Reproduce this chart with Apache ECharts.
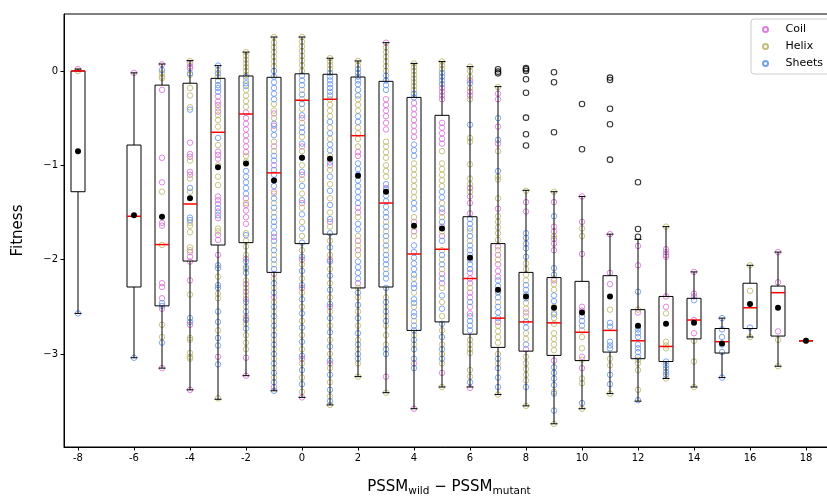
<!DOCTYPE html>
<html><head><meta charset="utf-8">
<script src="https://cdn.jsdelivr.net/npm/echarts@6/dist/echarts.min.js"></script>
<style>html,body{margin:0;padding:0;background:#fff}#c{width:827px;height:496px}</style>
</head><body><div id="c"></div>
<script>
const xTicks = [-8,-6,-4,-2,0,2,4,6,8,10,12,14,16,18];
const yTicks = [0,-1,-2,-3];
const boxX = [-8,-6,-5,-4,-3,-2,-1,0,1,2,3,4,5,6,7,8,9,10,11,12,13,14,15,16,17,18];
const whiskerLow = [-2.57,-3.04,-3.15,-3.38,-3.48,-3.23,-3.39,-3.46,-3.54,-3.24,-3.41,-3.58,-3.35,-3.35,-3.43,-3.55,-3.74,-3.58,-3.42,-3.50,-3.26,-3.35,-3.25,-2.82,-3.13,-2.86];
const q1 = [-1.28,-2.29,-2.49,-2.015,-1.845,-1.82,-2.135,-1.83,-1.73,-2.30,-2.29,-2.75,-2.66,-2.79,-2.93,-2.97,-3.015,-3.07,-2.98,-3.05,-3.08,-2.84,-2.99,-2.73,-2.81,-2.86];
const median = [0.0,-1.54,-1.84,-1.41,-0.65,-0.456,-1.08,-0.31,-0.30,-0.686,-1.40,-1.94,-1.89,-2.2,-2.62,-2.66,-2.67,-2.77,-2.75,-2.86,-2.92,-2.64,-2.87,-2.51,-2.35,-2.86];
const q3 = [0.0,-0.785,-0.15,-0.13,-0.078,-0.053,-0.067,-0.03,-0.035,-0.064,-0.11,-0.28,-0.47,-1.545,-1.83,-2.135,-2.19,-2.23,-2.17,-2.53,-2.39,-2.41,-2.73,-2.25,-2.28,-2.86];
const whiskerHigh = [0.02,-0.02,0.074,0.11,0.057,0.2,0.36,0.36,0.135,0.106,0.30,0.08,0.10,0.046,-0.166,-1.265,-1.28,-1.33,-1.73,-1.785,-1.65,-2.13,-2.62,-2.06,-1.92,-2.86];
const means = [-0.85,-1.53,-1.545,-1.35,-1.02,-0.98,-1.16,-0.92,-0.93,-1.11,-1.28,-1.64,-1.67,-1.98,-2.32,-2.39,-2.51,-2.56,-2.39,-2.70,-2.68,-2.67,-2.89,-2.47,-2.51,-2.86];
const outliers = [[7,0.018],[7,-0.007],[7,-0.025],[8,0.03],[8,0.018],[8,0.0],[8,-0.088],[8,-0.23],[8,-0.495],[8,-0.67],[8,-0.79],[9,-0.014],[9,-0.12],[9,-0.65],[10,-0.35],[10,-0.83],[11,-0.07],[11,-0.095],[11,-0.40],[11,-0.565],[11,-0.94],[12,-1.18],[12,-1.675],[12,-1.757]];

const coilByX = [
 [-8,[0.02]],
 [-6,[-0.02]],
 [-5,[0.07,-0.20,-0.92,-1.18,-1.61,-1.64,-2.25,-2.29,-2.41,-2.52,-3.15]],
 [-4,[0.08,0.046,0.028,-0.76,-0.88,-0.91,-1.07,-1.10,-1.92,-1.97,-2.02,-2.22,-2.69,-3.38]],
 [-3,[-0.27,-0.325,-0.36,-0.43,-0.855,-0.89,-0.93,-1.33,-1.37,-1.41,-1.49,-1.56,-1.74,-1.79,-1.95,-3.03]],
 [-2,[-0.44,-0.5,-0.56,-0.62,-0.68,-0.74,-0.8,-0.86,-1.35,-1.42,-1.48,-1.55,-1.62,-1.99,-2.26,-2.34,-2.42,-2.62,-3.04,-3.23]],
 [-1,[-0.45,-0.58,-0.8,-1.0,-1.28,-1.76,-2.15,-2.4,-3.35]],
 [0,[-0.5,-0.8,-1.1,-1.4,-2.0,-2.3,-3.05,-3.46]],
 [1,[-1.0,-1.6,-2.0,-2.5,-3.1]],
 [2,[-0.86,-0.9,-1.45,-1.5,-1.8,-1.9,-2.25]],
 [3,[0.3,-0.3,-0.36,-0.42,-0.48,-0.55,-0.62,-1.24,-3.24]],
 [4,[-0.34,-0.4,-0.46,-0.52,-0.58,-0.64,-0.7,-1.6,-1.7,-3.1,-3.58]],
 [5,[-0.18,-0.22,-0.26,-0.3,-0.55,-0.6,-0.66,-0.72,-0.77,-1.5,-1.65,-1.75,-2.15,-2.25,-3.2]],
 [6,[-0.1,-0.22,-0.26,-1.24,-1.33,-1.4,-1.51,-2.14,-2.2,-2.25,-2.35,-2.4,-2.5,-2.57,-3.36]],
 [7,[-0.24,-0.30,-0.59,-0.77,-1.46,-1.86,-1.95,-2.05,-2.12,-2.18,-2.66]],
 [8,[-1.39,-1.49,-2.56,-2.95]],
 [9,[-1.39,-1.65,-1.7,-1.78,-1.83,-1.9,-2.22,-3.07]],
 [10,[-1.33,-1.6,-1.94,-2.5,-2.54,-3.03,-3.15]],
 [11,[-1.73,-2.14,-2.26]],
 [12,[-1.855,-2.06,-2.56]],
 [13,[-1.89,-1.92,-1.95,-1.97,-2.39,-2.5]],
 [14,[-2.13,-2.36,-2.39,-2.64,-2.78]],
 [17,[-1.92,-2.24,-2.76]]
];
const helixByX = [
 [-8,[0.0]],
 [-5,[-0.025,-0.06,-0.078,-1.28,-1.845,-2.69,-2.82]],
 [-4,[0.106,-0.04,-0.18,-0.26,-0.385,-0.95,-1.14,-1.28,-1.61,-1.64,-1.71,-1.87,-1.90,-2.37,-2.83,-2.85,-2.99,-3.03,-3.05]],
 [-3,[0.01,-0.06,-0.395,-0.47,-0.52,-0.59,-0.785,-1.0,-1.12,-1.21,-1.67,-1.70,-2.18,-2.36,-2.41,-2.75,-3.47]],
 [-2,[0.2,0.16,0.12,0.08,0.04,0.0,-0.04,-0.1,-0.2,-0.26,-0.32,-0.38,-0.9,-0.96,-1.4,-1.72,-1.8,-1.86,-1.95,-2.1,-2.22,-2.3,-2.38,-2.5,-2.6,-2.68,-2.8,-2.88,-2.95]],
 [-1,[0.36,0.3,0.25,0.2,0.15,0.1,0.05,-0.35,-0.42,-0.5,-0.75,-0.85,-1.3,-1.4,-1.5,-1.85,-1.95,-2.05,-2.2,-2.3,-2.45,-2.55,-2.65,-2.75,-2.85,-2.95,-3.05,-3.15,-3.25]],
 [0,[0.36,0.31,0.26,0.21,0.16,0.11,0.06,0.0,-0.2,-0.3,-0.4,-0.55,-0.7,-0.85,-1.0,-1.15,-1.3,-1.45,-1.6,-1.75,-1.9,-2.05,-2.2,-2.35,-2.5,-2.65,-2.8,-2.95,-3.1,-3.25,-3.4]],
 [1,[0.135,0.1,0.06,0.02,-0.3,-0.36,-0.42,-0.48,-0.6,-0.72,-0.9,-1.05,-1.2,-1.35,-1.5,-1.65,-1.8,-1.95,-2.1,-2.25,-2.4,-2.55,-2.7,-2.85,-3.0,-3.15,-3.3,-3.45,-3.54]],
 [2,[0.106,0.06,-0.3,-0.36,-0.42,-0.6,-0.66,-0.72,-0.8,-1.55,-1.75,-1.85,-1.95,-2.3,-2.4,-2.55,-2.7,-2.85,-2.95,-3.1,-3.24]],
 [3,[0.25,0.2,0.15,0.1,0.05,0.0,-0.75,-0.8,-0.86,-0.92,-1.0,-1.06,-1.12,-1.6,-1.7,-1.8,-1.9,-2.1,-2.4,-2.5,-2.6,-2.7,-2.8,-2.9,-3.41]],
 [4,[0.08,0.04,0.0,-0.04,-0.08,-0.12,-0.16,-0.2,-0.98,-1.04,-1.1,-1.16,-1.22,-1.28,-1.34,-1.55,-1.65,-1.75,-2.2,-2.35,-2.5,-2.65,-2.8,-2.9]],
 [5,[0.1,0.06,0.02,-0.85,-0.98,-1.04,-1.1,-1.16,-1.22,-1.4,-1.55,-1.7,-1.9,-2.0,-2.1,-2.3,-2.45,-2.6,-2.75,-2.9,-3.0,-3.1,-3.35]],
 [6,[0.046,0.0,-0.06,-0.18,-0.3,-0.71,-0.75,-0.99,-1.14,-1.2,-1.28,-1.7,-1.8,-2.3,-2.85,-2.9,-2.95,-2.99,-3.17,-3.24]],
 [7,[-0.17,-0.85,-1.12,-1.15,-1.35,-1.54,-1.6,-1.66,-1.72,-1.79,-1.9,-2.0,-2.35,-2.45,-2.7,-2.76,-2.82,-2.88,-3.0,-3.1,-3.43]],
 [8,[-1.27,-2.04,-2.1,-2.16,-2.22,-2.46,-2.52,-2.6,-2.78,-2.84,-3.03,-3.1,-3.16,-3.22,-3.28,-3.55]],
 [9,[-1.28,-1.75,-2.2,-2.26,-2.32,-2.5,-2.56,-2.62,-2.68,-2.78,-2.84,-2.9,-2.96,-3.4,-3.74]],
 [10,[-1.67,-1.75,-2.75,-2.82,-2.94,-3.06,-3.26,-3.31,-3.58]],
 [11,[-2.53,-3.05,-3.12,-3.42]],
 [12,[-2.53,-3.06,-3.1,-3.17,-3.38]],
 [13,[-1.65,-2.57,-2.87,-2.91,-2.94,-3.26]],
 [14,[-2.86,-3.08,-3.35]],
 [16,[-2.06,-2.33,-2.82]],
 [17,[-2.85,-3.13]],
 [18,[-2.86]]
];
const sheetsByX = [
 [-8,[-2.57]],
 [-6,[-3.04]],
 [-5,[0.01,-2.46,-2.49,-2.88]],
 [-4,[-0.025,-0.41,-1.24,-1.555,-1.58,-2.62,-2.66]],
 [-3,[0.057,-0.025,-0.106,-0.15,-0.18,-0.22,-0.71,-1.455,-1.53,-2.06,-2.09,-2.27,-2.30,-2.55,-2.66,-2.83,-2.91,-3.11]],
 [-2,[-0.06,-0.13,-0.16,-1.06,-1.12,-1.18,-1.24,-1.3,-1.74,-2.02,-2.08,-2.14,-2.45,-2.55,-2.64,-2.73]],
 [-1,[0.0,-0.06,-0.12,-0.18,-0.24,-0.3,-0.56,-0.62,-0.68,-0.9,-0.95,-1.05,-1.1,-1.16,-1.22,-1.35,-1.45,-1.55,-1.6,-1.65,-1.72,-1.8,-1.9,-2.0,-2.1,-2.25,-2.35,-2.5,-2.6,-2.7,-2.8,-2.9,-3.0,-3.1,-3.2,-3.3,-3.39]],
 [0,[-0.05,-0.1,-0.15,-0.25,-0.35,-0.47,-0.6,-0.65,-0.77,-0.92,-1.07,-1.22,-1.37,-1.52,-1.67,-1.82,-1.97,-2.12,-2.27,-2.42,-2.57,-2.72,-2.87,-3.02,-3.17,-3.32]],
 [1,[-0.02,-0.06,-0.1,-0.14,-0.18,-0.22,-0.26,-0.54,-0.66,-0.78,-0.84,-0.97,-1.12,-1.27,-1.42,-1.57,-1.72,-1.87,-2.02,-2.17,-2.32,-2.47,-2.62,-2.77,-2.92,-3.07,-3.22,-3.38,-3.5]],
 [2,[0.02,-0.02,-0.06,-0.1,-0.14,-0.2,-0.26,-0.48,-0.54,-0.98,-1.04,-1.1,-1.16,-1.22,-1.28,-1.34,-1.4,-1.62,-1.68,-2.02,-2.08,-2.14,-2.2,-2.35,-2.48,-2.62,-2.78,-2.9,-3.0,-3.05]],
 [3,[-0.05,-0.1,-0.15,-0.2,-1.2,-1.26,-1.32,-1.38,-1.44,-1.5,-1.55,-1.65,-1.75,-1.85,-1.95,-2.0,-2.05,-2.15,-2.2,-2.3,-2.45,-2.55,-2.65,-2.95,-3.0]],
 [4,[-0.24,-0.28,-0.78,-0.84,-0.9,-1.4,-1.46,-1.85,-1.92,-1.98,-2.04,-2.1,-2.16,-2.26,-2.3,-2.42,-2.46,-2.56,-2.6,-2.7,-2.75,-2.85,-2.95,-3.05,-3.15]],
 [5,[-0.02,-0.06,-0.1,-0.14,-1.28,-1.34,-1.46,-1.6,-1.8,-1.95,-2.05,-2.2,-2.38,-2.52,-2.68,-2.82,-2.95,-3.05]],
 [6,[-0.13,-0.57,-1.57,-1.62,-1.67,-1.75,-1.85,-1.9,-1.95,-2.0,-2.05,-2.1,-2.45,-2.6,-2.65,-2.7,-2.75,-3.3]],
 [7,[-0.5,-0.73,-1.06,-2.22,-2.28,-2.34,-2.4,-2.5,-2.56,-2.62,-3.05,-3.15,-3.25,-3.35]],
 [8,[-1.72,-1.77,-1.83,-1.88,-1.97,-2.27,-2.32,-2.37,-2.41,-2.66,-2.72,-2.9,-3.35]],
 [9,[-1.54,-2.09,-2.16,-2.38,-2.44,-2.58,-3.14,-3.2,-3.26,-3.33,-3.42,-3.6]],
 [10,[-2.6,-2.65,-2.7,-3.52]],
 [11,[-2.67,-2.71,-2.87,-2.91,-2.94,-3.22,-3.32]],
 [12,[-2.34,-2.71,-2.74,-2.78,-2.82,-2.9,-2.94,-2.98,-3.03,-3.49]],
 [13,[-3.08,-3.12,-3.15,-3.19,-3.22]],
 [14,[-2.43]],
 [15,[-2.62,-2.74,-2.82,-2.9,-2.98,-3.25]],
 [16,[-2.72]]
];

function flat(groups){ const out=[]; groups.forEach(g=>g[1].forEach(v=>out.push([g[0],v]))); return out; }

const chart = echarts.init(document.getElementById('c'), null, {renderer:'canvas'});
const FONT = 'DejaVu Sans';
function pts(name, color, groups){
  return {type:'scatter', name, data: flat(groups), symbol:'circle', symbolSize:5.5,
    itemStyle:{color:'rgba(0,0,0,0)', borderColor:color, borderWidth:0.9, opacity:0.9}, z:2, silent:true};
}
chart.setOption({
  animation:false,
  textStyle:{fontFamily:FONT},
  grid:{left:64, top:14, width:770, height:433, show:true, borderColor:'#000', borderWidth:1, backgroundColor:'transparent', containLabel:false, outerBoundsMode:'none'},
  legend:{orient:'vertical', left:751, top:19, itemWidth:26, itemHeight:5, itemGap:6,
    padding:[5,12,5,11], borderColor:'#ccc', borderWidth:1, borderRadius:3, backgroundColor:'rgba(255,255,255,0.8)',
    textStyle:{fontFamily:FONT, fontSize:11, color:'#000', padding:[0,0,0,2]}, data:['Coil','Helix','Sheets']},
  xAxis:{type:'value', min:-8.5, max:19, splitLine:{show:false},
    axisLine:{show:true, onZero:false, lineStyle:{color:'#000'}},
    axisTick:{show:true, length:3.5, lineStyle:{color:'#000'}, customValues:xTicks},
    axisLabel:{fontFamily:FONT, fontSize:10, color:'#000', margin:6, customValues:xTicks, formatter:v=>String(v)},
    name:'{m|PSSM}{s|wild}{m| − PSSM}{s|mutant}', nameLocation:'middle', nameGap:30,
    nameTextStyle:{rich:{m:{fontFamily:FONT, fontSize:15, color:'#000', lineHeight:20}, s:{fontFamily:FONT, fontSize:10.5, color:'#000', verticalAlign:'bottom', lineHeight:20}}}},
  yAxis:{type:'value', min:-3.986, max:0.604, splitLine:{show:false},
    axisLine:{show:true, onZero:false, lineStyle:{color:'#000'}},
    axisTick:{show:true, length:3.5, lineStyle:{color:'#000'}, customValues:yTicks},
    axisLabel:{fontFamily:FONT, fontSize:10, color:'#000', margin:6, customValues:yTicks, formatter:v=>v===0?'0':'\u2212'+Math.abs(v)},
    name:'Fitness', nameLocation:'middle', nameGap:38, nameRotate:90,
    nameTextStyle:{fontFamily:FONT, fontSize:15, color:'#000'}},
  series:[
    pts('Coil','#DA70D6',coilByX),
    pts('Helix','#BDB76B',helixByX),
    pts('Sheets','#6495ED',sheetsByX),
    {type:'custom', name:'box', silent:true, z:3,
      data: boxX.map((x,i)=>[x, whiskerLow[i], q1[i], median[i], q3[i], whiskerHigh[i]]),
      encode:{x:0, y:[1,2,3,4,5]},
      renderItem:function(params, api){
        const x=api.value(0);
        const pL=api.coord([x,api.value(1)]), pQ1=api.coord([x,api.value(2)]), pM=api.coord([x,api.value(3)]), pQ3=api.coord([x,api.value(4)]), pH=api.coord([x,api.value(5)]);
        const hw=api.size([0.25,0])[0], cw=api.size([0.125,0])[0];
        const cx=pM[0];
        const blk={stroke:'#000', lineWidth:1, fill:null};
        return {type:'group', children:[
          {type:'line', shape:{x1:cx,y1:pQ3[1],x2:cx,y2:pH[1]}, style:blk},
          {type:'line', shape:{x1:cx,y1:pQ1[1],x2:cx,y2:pL[1]}, style:blk},
          {type:'line', shape:{x1:cx-cw,y1:pH[1],x2:cx+cw,y2:pH[1]}, style:blk},
          {type:'line', shape:{x1:cx-cw,y1:pL[1],x2:cx+cw,y2:pL[1]}, style:blk},
          {type:'rect', shape:{x:cx-hw,y:pQ3[1],width:2*hw,height:pQ1[1]-pQ3[1]}, style:{stroke:'#000', lineWidth:1, fill:'none'}},
          {type:'line', shape:{x1:cx-hw,y1:pM[1],x2:cx+hw,y2:pM[1]}, style:{stroke:'#ff0000', lineWidth:1.5}, z2:5}
        ]};
      }
    },
    {type:'scatter', name:'outliers', data:outliers, symbol:'circle', symbolSize:5.5, silent:true, z:4,
      itemStyle:{color:'rgba(0,0,0,0)', borderColor:'#000', borderWidth:1.1}},
    {type:'scatter', name:'mean', data:boxX.map((x,i)=>[x,means[i]]), symbol:'circle', symbolSize:6, silent:true, z:5,
      itemStyle:{color:'#000', opacity:1}}
  ]
});
</script></body></html>
